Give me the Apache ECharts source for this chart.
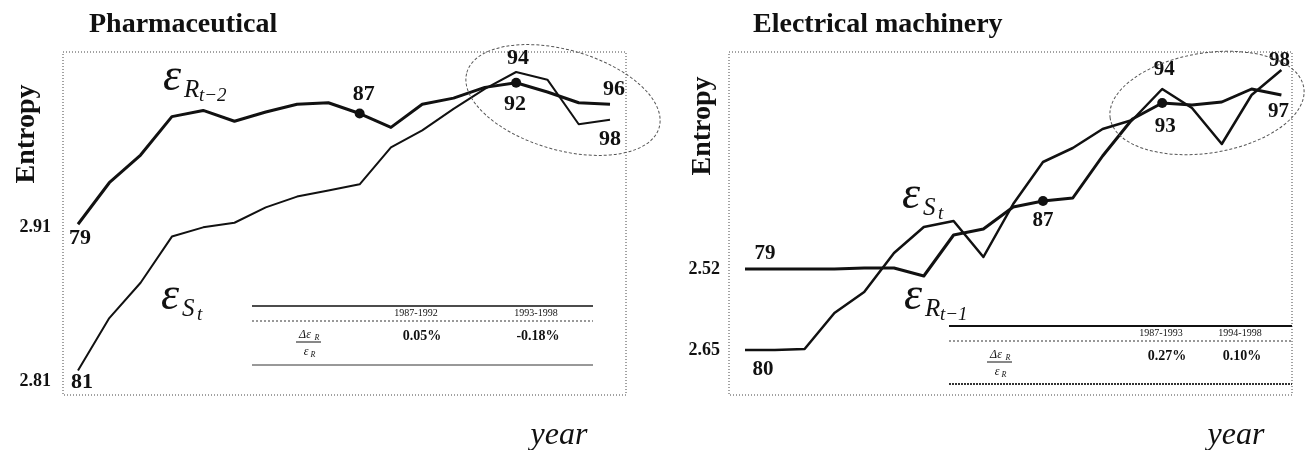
<!DOCTYPE html>
<html>
<head>
<meta charset="utf-8">
<script src="https://cdn.jsdelivr.net/npm/echarts@6/dist/echarts.min.js"></script>
<style>
  html, body { margin: 0; padding: 0; background: #fff; }
  #chart { width: 1307px; height: 450px; }
</style>
</head>
<body>
<div id="chart"></div>
<script>
// ---- Pharmaceutical: entropy of sales (t) and of R&D lagged two years ----
const pharmaYears = [81, 82, 83, 84, 85, 86, 87, 88, 89, 90, 91, 92, 93, 94, 95, 96, 97, 98];
const pharmaR = [2.912, 2.939, 2.957, 2.982, 2.986, 2.979, 2.985, 2.990, 2.991,
                 2.984, 2.975, 2.990, 2.994, 3.001, 3.004, 2.998, 2.991, 2.990];
const pharmaS = [2.817, 2.851, 2.874, 2.904, 2.910, 2.913, 2.923, 2.930, 2.934,
                 2.938, 2.962, 2.973, 2.987, 3.000, 3.011, 3.006, 2.977, 2.980];
const pharmaRTags = ['79', null, null, null, null, null, null, null, null,
                     '87', null, null, null, null, '92', null, null, '96'];
const pharmaSTags = ['81', null, null, null, null, null, null, null, null,
                     null, null, null, null, null, '94', null, null, '98'];
const pharmaRDots = [9, 14];
const pharmaTicks = [2.91, 2.81];
const pharmaPeriods = ['1987-1992', '1993-1998'];
const pharmaChanges = ['0.05%', '-0.18%'];

// ---- Electrical machinery: entropy of sales (t) and of R&D lagged one year ----
const elecYears = [80, 81, 82, 83, 84, 85, 86, 87, 88, 89, 90, 91, 92, 93, 94, 95, 96, 97, 98];
const elecR = [2.520, 2.520, 2.520, 2.520, 2.521, 2.521, 2.513, 2.554, 2.560, 2.582,
               2.588, 2.591, 2.633, 2.670, 2.686, 2.684, 2.687, 2.700, 2.694];
const elecS = [2.650, 2.650, 2.651, 2.687, 2.708, 2.747, 2.773, 2.779, 2.743, 2.796,
               2.838, 2.852, 2.871, 2.880, 2.911, 2.892, 2.856, 2.905, 2.930];
const elecRTags = ['79', null, null, null, null, null, null, null, null, null,
                   '87', null, null, null, '93', null, null, null, '97'];
const elecSTags = ['80', null, null, null, null, null, null, null, null, null,
                   null, null, null, null, '94', null, null, null, '98'];
const elecRDots = [10, 14];
const elecRTick = [2.52];
const elecSTick = [2.65];
const elecPeriods = ['1987-1993', '1994-1998'];
const elecChanges = ['0.27%', '0.10%'];

// ---- styling ----
const SERIF = 'Liberation Serif';
const INK = '#111';

// label offsets (px) from the tagged point, keyed by point index
const tagOffsets = {
  pharmaR: { 0: [2, 14], 9: [4, -19], 14: [-1, 22], 17: [4, -15] },
  pharmaS: { 0: [4, 12], 14: [2, -14], 17: [0, 20] },
  elecR:   { 0: [20, -15], 10: [0, 20], 14: [3, 24], 18: [-3, 17] },
  elecS:   { 0: [18, 20], 14: [2, -19], 18: [-2, -9] }
};

function buildPoints(years, vals, tags, dots, offsets) {
  return years.map((t, i) => {
    const item = { value: [t, vals[i]] };
    if (dots.indexOf(i) >= 0) item.symbolSize = 10;
    if (tags[i]) item.label = { show: true, formatter: tags[i], offset: offsets[i] || [0, 0] };
    return item;
  });
}

function lineSeries(xi, yi, data, width, fontSize) {
  return {
    type: 'line',
    xAxisIndex: xi,
    yAxisIndex: yi,
    data: data,
    symbol: 'circle',
    symbolSize: 0,
    showSymbol: true,
    clip: false,
    itemStyle: { color: INK },
    lineStyle: { color: INK, width: width, join: 'round' },
    label: {
      show: false, position: 'inside',
      fontFamily: SERIF, fontWeight: 'bold', fontSize: fontSize, color: INK
    },
    emphasis: { disabled: true },
    z: 3
  };
}

function hiddenX(gi, min, max) {
  return {
    gridIndex: gi, type: 'value', min: min, max: max,
    axisLine: { show: false }, axisTick: { show: false },
    axisLabel: { show: false }, splitLine: { show: false }
  };
}

function tickY(gi, min, max, values, margin) {
  return {
    gridIndex: gi, type: 'value', min: min, max: max, position: 'left',
    axisLine: { show: false }, axisTick: { show: false }, splitLine: { show: false },
    axisLabel: {
      customValues: values, margin: margin,
      formatter: v => v.toFixed(2),
      fontFamily: SERIF, fontWeight: 'bold', fontSize: 18, color: INK
    }
  };
}

function txt(x, y, text, o) {
  o = o || {};
  return {
    type: 'text', x: x, y: y, rotation: o.rotation || 0, z: 10, silent: true,
    style: {
      text: text, fill: o.fill || INK,
      fontFamily: SERIF, fontSize: o.size || 14,
      fontWeight: o.weight || 'normal', fontStyle: o.style || 'normal',
      align: o.align || 'center', verticalAlign: 'middle'
    }
  };
}

function hline(x1, x2, y, width, dash, color) {
  return {
    type: 'line', silent: true, z: 10,
    shape: { x1: x1, y1: y, x2: x2, y2: y },
    style: { stroke: color || '#222', lineWidth: width, lineDash: dash || null }
  };
}

function ellipse(cx, cy, rx, ry, deg) {
  return {
    type: 'ellipse', x: cx, y: cy, rotation: deg * Math.PI / 180, silent: true, z: 9,
    shape: { cx: 0, cy: 0, rx: rx, ry: ry },
    style: { fill: 'none', stroke: '#555', lineWidth: 1, lineDash: [3, 2] }
  };
}

// epsilon with a nested subscript: ε, then the variable, then its time index
function epsilon(x, y, sub, subsub) {
  return [
    txt(x, y, 'ε', { size: 46, style: 'italic', align: 'left' }),
    txt(x + 21, y + 12, sub, { size: 25, style: 'italic', align: 'left' }),
    txt(x + 36, y + 18, subsub, { size: 19, style: 'italic', align: 'left' })
  ];
}

// ratio table drawn under the curves
function ratioTable(x1, x2, yTop, yMid, yBot, colX, fracX, periods, changes, bottomDash, bottomWidth, topWidth) {
  const yHead = (yTop + yMid) / 2;
  const yVal = yMid + 15;
  return [
    hline(x1, x2, yTop, topWidth, null, '#111'),
    hline(x1, x2, yMid, 1, [2, 2], '#333'),
    hline(x1, x2, yBot, bottomWidth, bottomDash, '#333'),
    txt(colX[0], yHead, periods[0], { size: 10 }),
    txt(colX[1], yHead, periods[1], { size: 10 }),
    txt(colX[0] + 6, yVal, changes[0], { size: 14, weight: 'bold' }),
    txt(colX[1] + 2, yVal, changes[1], { size: 14, weight: 'bold' }),
    // fraction  Δε_R / ε_R
    txt(fracX - 3, yVal - 1, 'Δε', { size: 12, style: 'italic' }),
    txt(fracX + 9, yVal + 2, 'R', { size: 8, style: 'italic' }),
    hline(fracX - 12, fracX + 13, yVal + 6, 1, null, '#111'),
    txt(fracX - 2, yVal + 16, 'ε', { size: 12, style: 'italic' }),
    txt(fracX + 5, yVal + 19, 'R', { size: 8, style: 'italic' })
  ];
}

const graphics = [].concat(
  // axis captions
  [txt(27, 134, 'Entropy', { size: 28, weight: 'bold', rotation: Math.PI / 2 }),
   txt(703, 126, 'Entropy', { size: 28, weight: 'bold', rotation: Math.PI / 2 }),
   txt(559, 436, 'year', { size: 32, style: 'italic' }),
   txt(1236, 436, 'year', { size: 32, style: 'italic' })],
  // series names
  epsilon(163, 78, 'R', 't−2'),
  epsilon(161, 297, 'S', 't'),
  epsilon(902, 196, 'S', 't'),
  epsilon(904, 297, 'R', 't−1'),
  // highlighted recent periods
  [ellipse(563, 100, 100, 50, -16), ellipse(1207, 103, 98, 50, 9)],
  ratioTable(252, 593, 306, 321, 365, [416, 536], 308, pharmaPeriods, pharmaChanges, null, 1, 1.5),
  ratioTable(949, 1292, 326, 341, 384, [1161, 1240], 999, elecPeriods, elecChanges, [2, 1], 2, 2)
);

const titleStyle = { fontFamily: SERIF, fontWeight: 'bold', fontSize: 28, color: INK };

const option = {
  animation: false,
  backgroundColor: '#fff',
  title: [
    { text: 'Pharmaceutical', left: 84, top: 6, textStyle: titleStyle },
    { text: 'Electrical machinery', left: 748, top: 6, textStyle: titleStyle }
  ],
  grid: [
    { left: 63, top: 52, width: 563, height: 343, show: true,
      borderColor: '#444', borderWidth: 1, borderType: [1, 2], backgroundColor: 'transparent' },
    { left: 729, top: 52, width: 563, height: 343, show: true,
      borderColor: '#444', borderWidth: 1, borderType: [1, 2], backgroundColor: 'transparent' }
  ],
  xAxis: [
    hiddenX(0, 80.521, 98.511),
    hiddenX(1, 79.463, 98.356)
  ],
  yAxis: [
    tickY(0, 2.801, 3.024, pharmaTicks, 12),
    tickY(1, 2.394, 2.737, elecRTick, 9),
    tickY(1, 2.605, 2.948, elecSTick, 9)
  ],
  series: [
    lineSeries(0, 0, buildPoints(pharmaYears, pharmaS, pharmaSTags, [], tagOffsets.pharmaS), 2, 22),
    lineSeries(0, 0, buildPoints(pharmaYears, pharmaR, pharmaRTags, pharmaRDots, tagOffsets.pharmaR), 3, 22),
    lineSeries(1, 2, buildPoints(elecYears, elecS, elecSTags, [], tagOffsets.elecS), 2.5, 21),
    lineSeries(1, 1, buildPoints(elecYears, elecR, elecRTags, elecRDots, tagOffsets.elecR), 3, 21)
  ],
  graphic: graphics
};

const chart = echarts.init(document.getElementById('chart'), null, { renderer: 'canvas' });
chart.setOption(option);
</script>
</body>
</html>
